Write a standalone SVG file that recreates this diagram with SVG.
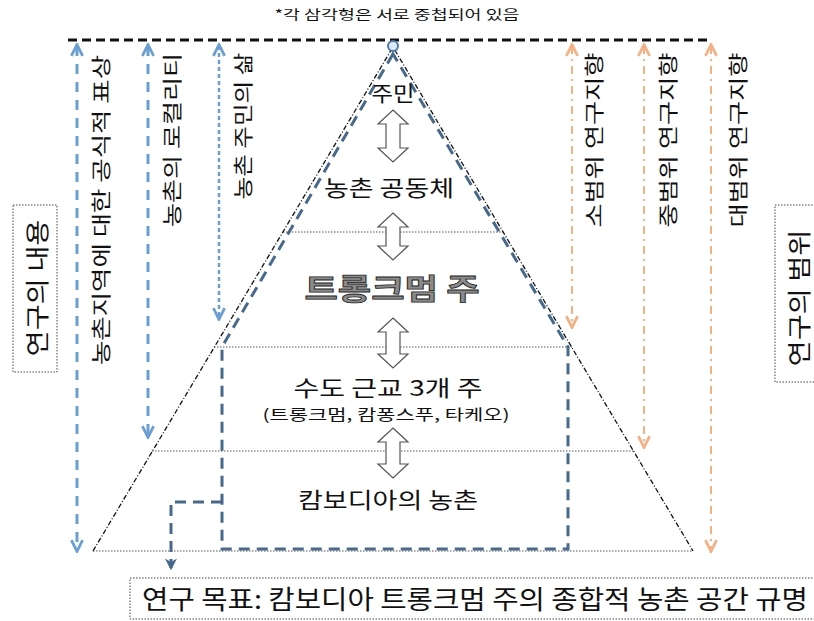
<svg xmlns="http://www.w3.org/2000/svg" width="814" height="621" viewBox="0 0 814 621">
<defs>
<style>
text{font-family:"Noto Sans CJK KR","Noto Sans",sans-serif;fill:#111;}
.c{text-anchor:middle;}
.v{text-anchor:middle;dominant-baseline:central;font-size:20px;}
.box{fill:none;stroke:#444;stroke-width:1;stroke-dasharray:1.5 1.5;}
.tri{fill:none;stroke:#111;stroke-width:1.3;stroke-dasharray:5 2 1 2;}
.hl{stroke:#555;stroke-width:1;stroke-dasharray:1.5 1.5;}
.pent{fill:none;stroke:#46698c;stroke-width:3;stroke-dasharray:11 7;}
.blue{fill:none;stroke:#6a9fd4;stroke-width:3;stroke-dasharray:10 8;}
.blue2{fill:none;stroke:#6a9fd4;stroke-width:2.5;stroke-dasharray:4 3;}
.org{fill:none;stroke:#f4b183;stroke-width:2;stroke-dasharray:8 5 2 5;}
.dbl{fill:#fff;stroke:#555;stroke-width:1.2;}
</style>
<marker id="mb" viewBox="0 0 10 10" refX="8" refY="5" markerWidth="5" markerHeight="5" orient="auto-start-reverse" markerUnits="userSpaceOnUse">
<path d="M1,1 L9,5 L1,9" fill="none" stroke="#6a9fd4" stroke-width="2"/>
</marker>
<marker id="mbb" viewBox="0 0 10 10" refX="8" refY="5" markerWidth="14" markerHeight="14" orient="auto-start-reverse" markerUnits="userSpaceOnUse">
<path d="M1,1 L9,5 L1,9" fill="none" stroke="#6a9fd4" stroke-width="2"/>
</marker>
<marker id="mo" viewBox="0 0 10 10" refX="8" refY="5" markerWidth="14" markerHeight="14" orient="auto-start-reverse" markerUnits="userSpaceOnUse">
<path d="M1,1 L9,5 L1,9" fill="none" stroke="#f4b183" stroke-width="2"/>
</marker>
<marker id="md" viewBox="0 0 10 10" refX="8" refY="5" markerWidth="12" markerHeight="12" orient="auto" markerUnits="userSpaceOnUse">
<path d="M0,0 L10,5 L0,10 L3,5 Z" fill="#46698c"/>
</marker>
</defs>
<rect width="814" height="621" fill="#fff"/>

<g id="note"><text class="c" x="397" y="19" font-size="13" textLength="245" lengthAdjust="spacingAndGlyphs">*각 삼각형은 서로 중첩되어 있음</text></g>

<g id="pyramid">
<line class="hl" x1="283" y1="232" x2="503" y2="232"/>
<line class="hl" x1="214" y1="347" x2="572" y2="347"/>
<line class="hl" x1="152" y1="451" x2="634" y2="451"/>
<line class="hl" x1="93" y1="551" x2="693" y2="551"/>
<path class="tri" d="M93,551 L393,47 L693,551"/>
</g>

<g id="overlap-area"><path class="pent" d="M393,54 L222,347 V549 H568 V347 Z"/></g>

<g id="connectors">
<line x1="68" y1="40" x2="712" y2="40" stroke="#111" stroke-width="3" stroke-dasharray="9 5"/>
<line class="blue" x1="77" y1="46" x2="77" y2="550" marker-start="url(#mbb)" marker-end="url(#mbb)"/>
<line class="blue" x1="148" y1="46" x2="148" y2="436" marker-start="url(#mbb)" marker-end="url(#mbb)"/>
<line class="blue2" x1="219" y1="46" x2="219" y2="318" marker-start="url(#mbb)" marker-end="url(#mbb)"/>
<line class="org" x1="572" y1="46" x2="572" y2="326" marker-start="url(#mo)" marker-end="url(#mo)"/>
<line class="org" x1="644" y1="46" x2="644" y2="446" marker-start="url(#mo)" marker-end="url(#mo)"/>
<line class="org" x1="711" y1="46" x2="711" y2="550" stroke-dasharray="12 5 2 5" marker-start="url(#mo)" marker-end="url(#mo)"/>
<path d="M222,502 H171 V568" fill="none" stroke="#46698c" stroke-width="3" stroke-dasharray="11 7" marker-end="url(#md)"/>
<path class="dbl" d="M393,110 L408,124 L400,124 L400,148 L408,148 L393,162 L378,148 L386,148 L386,124 L378,124 Z"/>
<path class="dbl" d="M393,213 L408,227 L400,227 L400,246 L408,246 L393,260 L378,246 L386,246 L386,227 L378,227 Z"/>
<path class="dbl" d="M393,318 L408,332 L400,332 L400,354 L408,354 L393,368 L378,354 L386,354 L386,332 L378,332 Z"/>
<path class="dbl" d="M393,428 L408,442 L400,442 L400,464 L408,464 L393,478 L378,464 L386,464 L386,442 L378,442 Z"/>
</g>

<g id="apex"><circle cx="393" cy="46" r="5" fill="#dce9f6" stroke="#4a7aa8" stroke-width="2"/></g>

<g id="level-residents"><text class="c" x="393" y="101" font-size="21" textLength="43" lengthAdjust="spacingAndGlyphs">주민</text></g>
<g id="level-community"><text class="c" x="389" y="196" font-size="22" textLength="130" lengthAdjust="spacingAndGlyphs">농촌 공동체</text></g>
<g id="level-province"><text class="c" x="392" y="300" font-size="29" font-weight="bold" style="fill:#8a8a8a;stroke:#222;stroke-width:0.8" textLength="175" lengthAdjust="spacingAndGlyphs">트롱크멈 주</text></g>
<g id="level-three">
<text class="c" x="388" y="396" font-size="22" textLength="189" lengthAdjust="spacingAndGlyphs">수도 근교 3개 주</text>
<text class="c" x="386" y="420" font-size="15" textLength="247" lengthAdjust="spacingAndGlyphs">(트롱크멈, 캄퐁스푸, 타케오)</text>
</g>
<g id="level-rural"><text class="c" x="388" y="508" font-size="22" textLength="180" lengthAdjust="spacingAndGlyphs">캄보디아의 농촌</text></g>

<g id="content-1"><text class="v" transform="translate(100,210) rotate(-90)" textLength="310" lengthAdjust="spacingAndGlyphs">농촌지역에 대한 공식적 표상</text></g>
<g id="content-2"><text class="v" transform="translate(171,140) rotate(-90)" textLength="174" lengthAdjust="spacingAndGlyphs">농촌의 로컬리티</text></g>
<g id="content-3"><text class="v" transform="translate(242,126) rotate(-90)" textLength="147" lengthAdjust="spacingAndGlyphs">농촌 주민의 삶</text></g>
<g id="scope-1"><text class="v" transform="translate(593,140) rotate(-90)" textLength="175" lengthAdjust="spacingAndGlyphs">소범위 연구지향</text></g>
<g id="scope-2"><text class="v" transform="translate(667,140) rotate(-90)" textLength="175" lengthAdjust="spacingAndGlyphs">중범위 연구지향</text></g>
<g id="scope-3"><text class="v" transform="translate(737,140) rotate(-90)" textLength="175" lengthAdjust="spacingAndGlyphs">대범위 연구지향</text></g>

<g id="label-content">
<rect class="box" x="13" y="205" width="44" height="167"/>
<text class="v" style="font-size:24px" transform="translate(35,288) rotate(-90)" textLength="137" lengthAdjust="spacingAndGlyphs">연구의 내용</text>
</g>
<g id="label-scope">
<rect class="box" x="775" y="205" width="45" height="177"/>
<text class="v" style="font-size:24px" transform="translate(797,298) rotate(-90)" textLength="137" lengthAdjust="spacingAndGlyphs">연구의 범위</text>
</g>
<g id="goal">
<rect class="box" x="130" y="578" width="700" height="41"/>
<text class="c" x="475" y="609" font-size="26" textLength="666" lengthAdjust="spacingAndGlyphs">연구 목표: 캄보디아 트롱크멈 주의 종합적 농촌 공간 규명</text>
</g>
</svg>
